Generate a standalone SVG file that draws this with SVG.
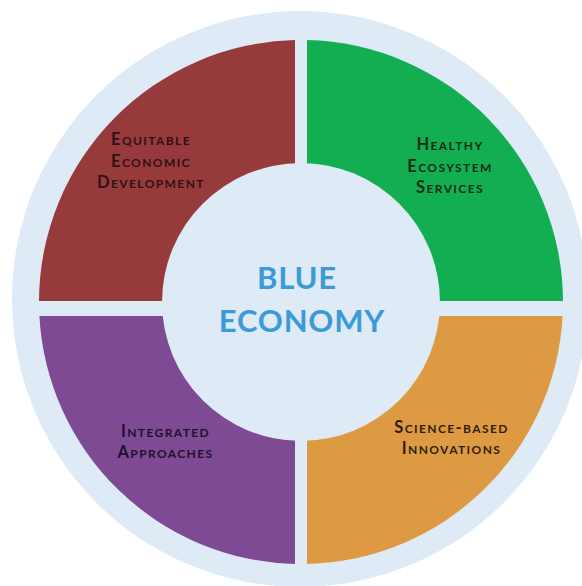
<svg xmlns="http://www.w3.org/2000/svg" width="582" height="586" viewBox="0 0 582 586">
<style>
.lbl{font-family:Lato,"Open Sans","Liberation Sans",sans-serif;font-size:16.5px;font-weight:700;font-variant:small-caps;letter-spacing:1.4px;text-anchor:middle}
.ctr{font-family:Lato,"Open Sans","Liberation Sans",sans-serif;font-size:31px;font-weight:700;fill:#3b9ad8;text-anchor:middle;letter-spacing:0.8px}
.pale{fill:#deeaf6}
</style>
<rect width="582" height="586" fill="#ffffff"/>
<circle class="pale" cx="300" cy="299" r="288"/>
<g id="equitable-economic-development">
<path d="M295,301 V40.1 A262,262 0 0 0 39,301 Z" fill="#973a3c"/>
<text class="lbl" fill="#2e1214" x="151" y="145">Equitable</text>
<text class="lbl" fill="#2e1214" x="151" y="166.5">Economic</text>
<text class="lbl" fill="#2e1214" x="151" y="188">Development</text>
</g>
<g id="healthy-ecosystem-services">
<path d="M307,301 V40.1 A262,262 0 0 1 563,301 Z" fill="#14ae52"/>
<text class="lbl" fill="#0d2e18" x="450" y="150">Healthy</text>
<text class="lbl" fill="#0d2e18" x="450" y="171.5">Ecosystem</text>
<text class="lbl" fill="#0d2e18" x="450" y="193">Services</text>
</g>
<g id="integrated-approaches">
<path d="M295,316 H39.4 A262,262 0 0 0 295,563.9 Z" fill="#7d4a93"/>
<text class="lbl" fill="#24102e" x="165.5" y="437">Integrated</text>
<text class="lbl" fill="#24102e" x="165.5" y="458">Approaches</text>
</g>
<g id="science-based-innovations">
<path d="M307,316 H562.6 A262,262 0 0 1 307,563.9 Z" fill="#de9a42"/>
<text class="lbl" fill="#2e1e0c" x="451.5" y="433">Science-based</text>
<text class="lbl" fill="#2e1e0c" x="451.5" y="454">Innovations</text>
</g>
<g id="blue-economy">
<circle class="pale" cx="301" cy="302" r="139"/>
<text class="ctr" x="297" y="289">BLUE</text>
<text class="ctr" x="302" y="332">ECONOMY</text>
</g>
<g id="connectors"/>
</svg>
